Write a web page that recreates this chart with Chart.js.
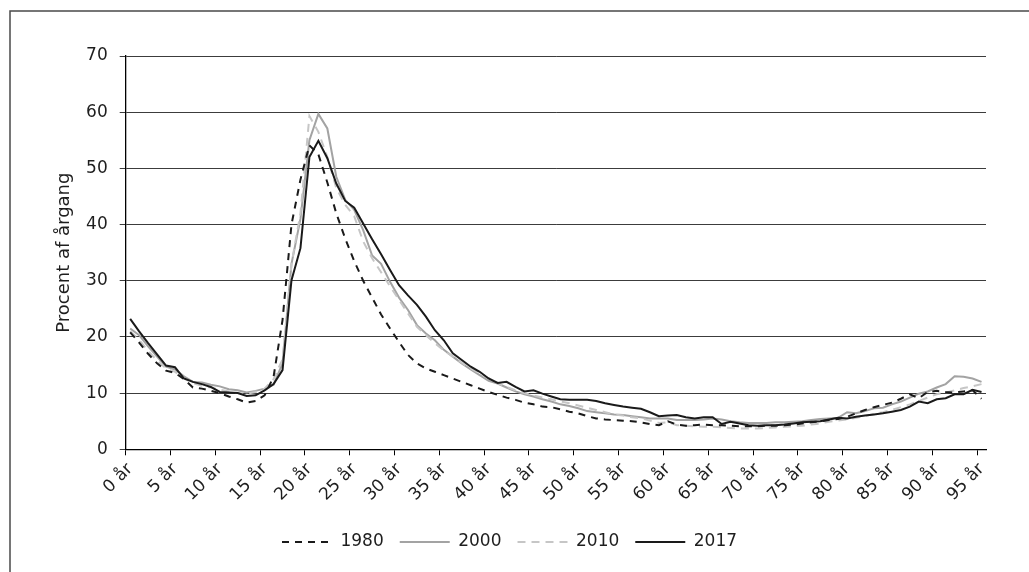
<!DOCTYPE html>
<html>
<head>
<meta charset="utf-8">
<script src="https://cdn.jsdelivr.net/npm/chart.js@4.4.1/dist/chart.umd.min.js"></script>
<style>
  html, body { margin: 0; padding: 0; background: #fff; }
  #chartAges { display: block; }
</style>
</head>
<body>
<canvas id="chartAges" width="1029" height="572"></canvas>
<script>
// alderskategorier
const ageLabels = [
    "0 år", "1 år", "2 år", "3 år", "4 år", "5 år", "6 år", "7 år", "8 år", "9 år",
    "10 år", "11 år", "12 år", "13 år", "14 år", "15 år", "16 år", "17 år", "18 år", "19 år",
    "20 år", "21 år", "22 år", "23 år", "24 år", "25 år", "26 år", "27 år", "28 år", "29 år",
    "30 år", "31 år", "32 år", "33 år", "34 år", "35 år", "36 år", "37 år", "38 år", "39 år",
    "40 år", "41 år", "42 år", "43 år", "44 år", "45 år", "46 år", "47 år", "48 år", "49 år",
    "50 år", "51 år", "52 år", "53 år", "54 år", "55 år", "56 år", "57 år", "58 år", "59 år",
    "60 år", "61 år", "62 år", "63 år", "64 år", "65 år", "66 år", "67 år", "68 år", "69 år",
    "70 år", "71 år", "72 år", "73 år", "74 år", "75 år", "76 år", "77 år", "78 år", "79 år",
    "80 år", "81 år", "82 år", "83 år", "84 år", "85 år", "86 år", "87 år", "88 år", "89 år",
    "90 år", "91 år", "92 år", "93 år", "94 år", "95 år"
];

// procent af årgang
const values1980 = [
    20.8, 19.0, 17.0, 15.3, 14.0, 13.6, 12.5, 11.0, 10.8, 10.4,
    10.0, 9.4, 8.9, 8.3, 8.6, 9.6, 12.9, 23.0, 40.0, 48.0,
    54.1, 52.5, 47.5, 42.0, 37.5, 33.5, 30.0, 27.0, 24.0, 21.5,
    19.1, 16.8, 15.3, 14.4, 13.8, 13.2, 12.6, 12.0, 11.4, 10.8,
    10.2, 9.7, 9.2, 8.8, 8.3, 8.0, 7.6, 7.5, 7.1, 6.7,
    6.4, 5.9, 5.5, 5.3, 5.2, 5.1, 5.0, 4.8, 4.5, 4.3,
    5.0, 4.4, 4.2, 4.3, 4.4, 4.3, 4.3, 4.2, 4.1, 4.1,
    4.1, 4.2, 4.2, 4.3, 4.4, 4.6, 4.8, 5.0, 5.2, 5.4,
    5.8, 6.4, 7.0, 7.5, 7.9, 8.3, 9.0, 9.8, 9.1, 10.2,
    10.4, 10.2, 10.1, 10.3, 10.5, 9.0
];
const values2000 = [
    21.5, 20.3, 18.3, 16.5, 14.7, 14.2, 13.0, 12.0, 11.9, 11.5,
    11.2, 10.7, 10.5, 10.1, 10.4, 10.8, 11.5, 15.3, 33.0, 41.0,
    55.0, 59.7, 57.1, 48.5, 44.4, 42.6, 39.0, 34.5, 33.0, 29.8,
    27.0, 24.8, 22.1, 20.6, 19.4, 17.7, 16.5, 15.3, 14.2, 13.2,
    12.2, 11.7, 11.0, 10.3, 9.8, 9.4, 8.9, 8.5, 8.0, 7.7,
    7.3, 6.8, 6.6, 6.4, 6.2, 6.1, 5.9, 5.7, 5.5, 5.5,
    5.5, 5.2, 5.2, 5.2, 5.3, 5.5, 5.3, 5.0, 4.8, 4.7,
    4.7, 4.7, 4.8, 4.8, 4.9, 5.0, 5.2, 5.4, 5.5, 5.6,
    6.6, 6.4, 6.8, 7.3, 7.4, 8.0, 8.5, 9.2, 9.9, 10.3,
    11.0, 11.6, 13.0, 12.9, 12.6, 12.0
];
const values2010 = [
    21.0, 19.5, 17.5, 15.8, 14.4, 13.8, 12.6, 11.8, 11.3, 11.0,
    10.6, 10.3, 10.0, 9.9, 10.2, 10.8, 12.5, 16.0, 33.0, 42.0,
    59.3, 56.5, 52.0, 46.5, 43.5, 41.5, 37.0, 34.0, 31.5, 29.0,
    26.6, 24.2, 21.8, 20.3, 18.9, 17.6, 16.5, 15.4, 14.4, 13.5,
    12.6, 11.8, 11.1, 10.5, 10.0, 9.6, 9.2, 8.9, 8.5, 8.2,
    7.8, 7.4, 7.0, 6.6, 6.2, 6.0, 5.7, 5.5, 5.1, 4.7,
    4.8, 4.3, 4.2, 4.1, 4.0, 4.0, 3.9, 3.8, 3.7, 3.7,
    3.7, 3.8, 3.9, 4.0, 4.1, 4.2, 4.4, 4.6, 4.9, 5.1,
    5.3, 5.6, 5.9, 6.3, 6.6, 7.0, 7.5, 8.0, 8.6, 9.2,
    9.8, 10.1, 10.5, 10.9, 11.2, 11.6
];
const values2017 = [
    23.2, 21.0, 18.9, 16.9, 14.9, 14.6, 12.6, 12.0, 11.6, 11.1,
    10.2, 10.1, 10.0, 9.5, 9.6, 10.5, 11.6, 14.1, 30.1, 35.8,
    52.0, 54.9, 51.8, 47.3, 44.2, 43.0, 40.2, 37.4, 34.7, 31.9,
    29.2, 27.4, 25.7, 23.6, 21.2, 19.4, 17.1, 15.9, 14.7, 13.8,
    12.6, 11.8, 12.0, 11.1, 10.3, 10.5, 9.9, 9.4, 8.9, 8.8,
    8.8, 8.8, 8.6, 8.2, 7.9, 7.6, 7.4, 7.2, 6.6, 5.9,
    6.0, 6.1, 5.7, 5.5, 5.7, 5.7, 4.5, 4.9, 4.6, 4.3,
    4.2, 4.3, 4.3, 4.4, 4.6, 4.8, 4.9, 5.0, 5.3, 5.6,
    5.5, 5.8, 6.0, 6.2, 6.4, 6.7, 7.0, 7.6, 8.5, 8.2,
    8.9, 9.1, 9.8, 9.8, 10.6, 10.2
];

const textFont = { family: "'DejaVu Sans', sans-serif", size: 17 };
const titleFont = { family: "'DejaVu Sans', sans-serif", size: 18 };
const textColor = "#1e1e1e";

// hvid baggrund og ramme rundt om figuren
const framePlugin = {
    id: "frame",
    beforeDraw(chart) {
        const ctx = chart.ctx;
        ctx.save();
        ctx.fillStyle = "#fff";
        ctx.fillRect(0, 0, chart.width, chart.height);
        ctx.strokeStyle = "#4a4a4a";
        ctx.lineWidth = 1.5;
        ctx.strokeRect(10, 11, chart.width + 20, chart.height + 20);
        ctx.restore();
    }
};

// legenden skal vise liniens egen streg (stiplet / bredde)
const legendLabels = (chart) => {
    const items = Chart.defaults.plugins.legend.labels.generateLabels(chart);
    items.forEach(item => {
        const ds = chart.data.datasets[item.datasetIndex];
        item.lineDash = ds.borderDash || [];
        item.lineWidth = ds.borderWidth;
        item.strokeStyle = ds.borderColor;
    });
    return items.sort((a, b) => a.datasetIndex - b.datasetIndex);
};

const chartAges = document.getElementById("chartAges");

new Chart(chartAges, {
    type: "line",
    data: {
        labels: ageLabels,
        datasets: [
            {
                label: "1980",
                data: values1980,
                borderColor: "#1a1a1a",
                borderWidth: 2,
                borderDash: [7, 6],
                order: 1
            },
            {
                label: "2000",
                data: values2000,
                borderColor: "#a3a3a3",
                borderWidth: 2,
                order: 3
            },
            {
                label: "2010",
                data: values2010,
                borderColor: "#c6c6c6",
                borderWidth: 2,
                borderDash: [8, 6],
                order: 2
            },
            {
                label: "2017",
                data: values2017,
                borderColor: "#1a1a1a",
                borderWidth: 2,
                order: 0
            }
        ]
    },
    options: {
        responsive: false,
        animation: false,
        devicePixelRatio: 1,
        elements: {
            point: { radius: 0 },
            line: { tension: 0, fill: false }
        },
        layout: {
            padding: { left: 0, right: 10, top: 56, bottom: 11.5 }
        },
        plugins: {
            tooltip: { enabled: false },
            legend: {
                position: "bottom",
                labels: {
                    usePointStyle: true,
                    pointStyle: "line",
                    pointStyleWidth: 50,
                    padding: 16,
                    color: textColor,
                    font: textFont,
                    generateLabels: legendLabels
                }
            }
        },
        scales: {
            x: {
                type: "category",
                offset: true,
                grid: {
                    offset: true,
                    drawOnChartArea: false,
                    tickLength: 6,
                    color: (ctx) => (ctx.index % 5 === 0 ? "#000" : "rgba(0,0,0,0)")
                },
                border: { color: "#000", width: 1.3 },
                ticks: {
                    autoSkip: false,
                    minRotation: 45,
                    maxRotation: 45,
                    padding: 4,
                    color: textColor,
                    font: textFont,
                    callback: function (value, index) {
                        return index % 5 === 0 ? this.getLabelForValue(value) : "";
                    }
                },
                afterFit: (scale) => { scale.height = 68.2; }
            },
            y: {
                min: 0,
                max: 70,
                ticks: {
                    stepSize: 10,
                    padding: 12,
                    color: textColor,
                    font: textFont
                },
                grid: { color: "#3c3c3c", lineWidth: 1, tickLength: 6 },
                border: { color: "#000", width: 1.3 },
                title: {
                    display: true,
                    text: "Procent af årgang",
                    color: textColor,
                    font: titleFont,
                    padding: { top: 54, bottom: 0 }
                },
                afterFit: (scale) => { scale.width = 125.7; }
            },
            // tom akse i højre side, så plotområdet slutter samme sted som originalen
            yRight: {
                position: "right",
                display: true,
                grid: { display: false },
                border: { display: false },
                ticks: { display: false },
                afterFit: (scale) => { scale.width = 33; }
            }
        }
    },
    plugins: [framePlugin]
});
</script>
</body>
</html>
